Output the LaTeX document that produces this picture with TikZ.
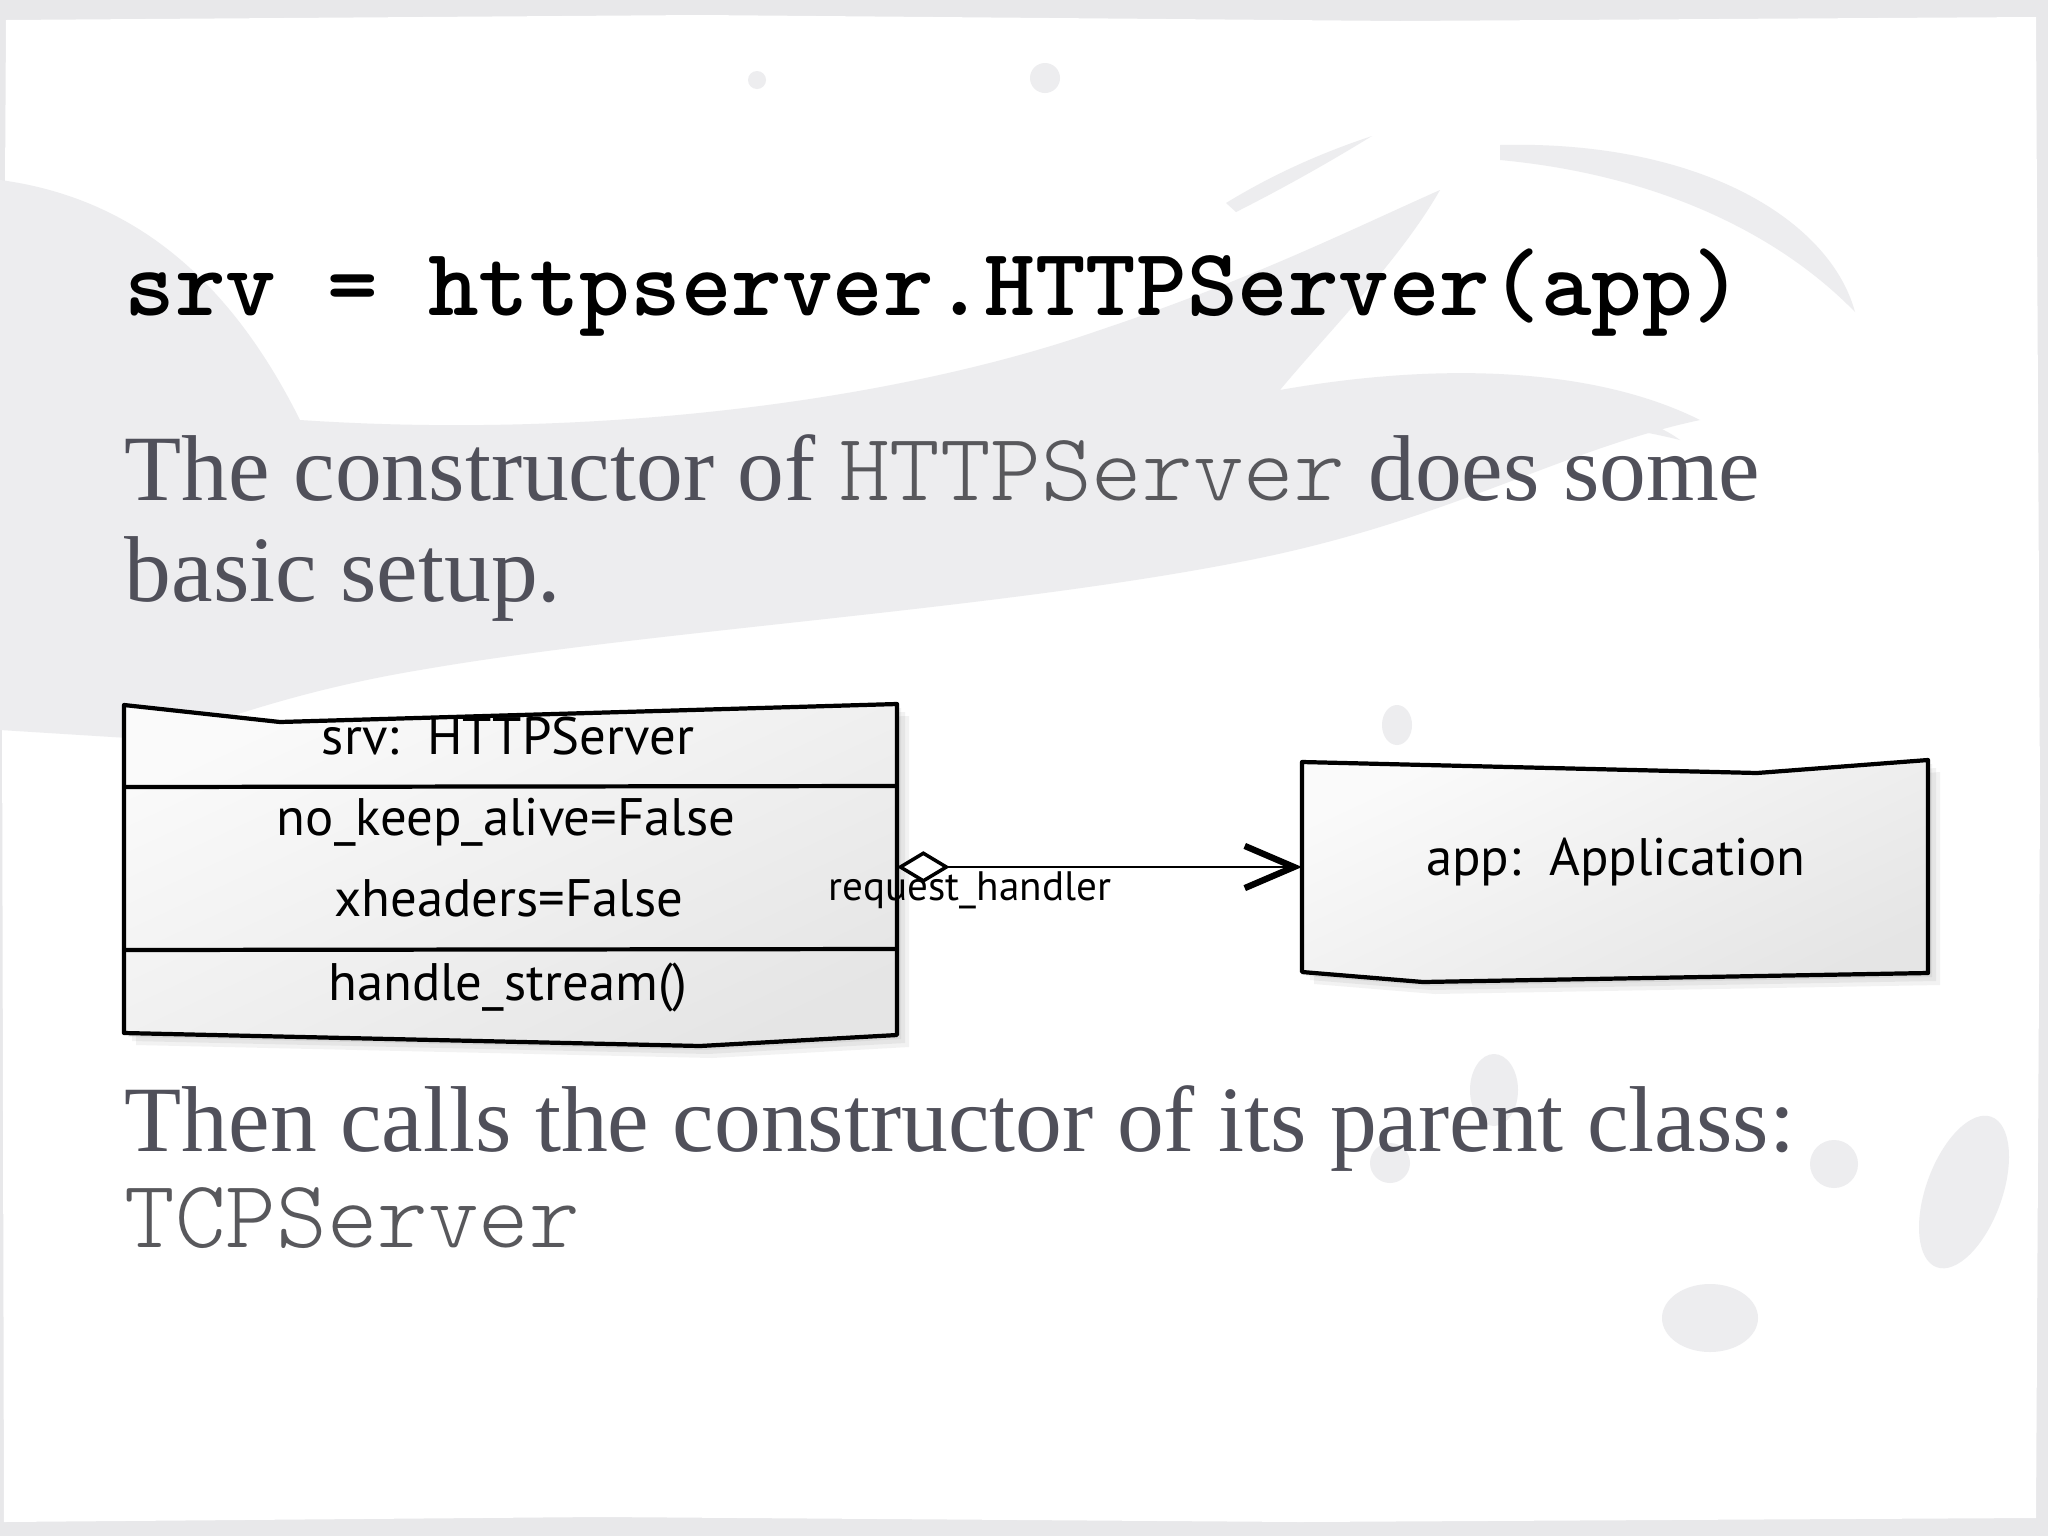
\documentclass[tikz,border=0pt]{standalone}
\usepackage{fontspec}
\setmainfont{Liberation Serif}
\newfontfamily\handfont{PT Sans}
\usetikzlibrary{arrows.meta, calc, positioning}

\definecolor{pagegray}{HTML}{E8E8EA}
\definecolor{splash}{HTML}{EDEDEF}
\definecolor{bodytext}{HTML}{50505A}
\definecolor{codetext}{HTML}{58585C}

\newcommand{\code}[1]{{\fontsize{27.4}{30}\selectfont\ttfamily\fontseries{l}\selectfont\color{codetext}#1}}

\tikzset{
  title text/.style={anchor=base west, inner sep=0pt,
    font=\fontsize{27.4}{30}\selectfont\ttfamily\bfseries},
  body text/.style={anchor=base west, inner sep=0pt, text=bodytext,
    font=\fontsize{26.6}{30}\selectfont},
  hand text/.style={anchor=base, inner sep=0pt,
    font=\fontsize{15}{18}\selectfont\handfont},
  small hand/.style={anchor=base, inner sep=0pt,
    font=\fontsize{11.7}{14}\selectfont\handfont},
  sketch line/.style={line width=1.2pt, line join=round},
  box shadow/.style={fill=black, opacity=0.05},
  box fill/.style={top color=black!2, bottom color=black!10, shading angle=25},
  aggregation/.style={line width=0.8pt,
    {Diamond[fill=white, length=15pt, width=9pt, line width=1pt]}-{Straight Barb[length=14pt, width=12pt, line width=1.8pt]}},
}

\begin{document}
\begin{tikzpicture}[x=0.01cm, y=-0.01cm]
  % page and background splashes
  \fill[pagegray] (0,0) rectangle (2048,1536);
  \fill[white] (6,20) -- (700,15) -- (1400,21) -- (2036,17) -- (2040,800)
    -- (2036,1518) -- (1300,1522) -- (600,1517) -- (4,1522) -- (2,700) -- cycle;
  \useasboundingbox (0,0) rectangle (2048,1536);

  \fill[splash] (0,180) .. controls (150,200) and (240,300) .. (300,420)
    .. controls (600,440) and (900,400) .. (1100,330)
    .. controls (1250,280) and (1350,230) .. (1440,190)
    .. controls (1400,260) and (1330,330) .. (1280,390)
    .. controls (1450,360) and (1600,370) .. (1700,420)
    .. controls (1560,450) and (1450,520) .. (1250,560)
    .. controls (1000,610) and (650,630) .. (420,670)
    .. controls (300,690) and (220,720) .. (160,740)
    -- (0,730) -- cycle;
  \fill[splash] (1500,145) .. controls (1700,140) and (1830,220) .. (1855,312)
    .. controls (1780,235) and (1660,175) .. (1500,160) -- cycle;
  \fill[splash] (1226,203) .. controls (1280,170) and (1330,150) .. (1372,136)
    .. controls (1320,168) and (1270,195) .. (1236,212) -- cycle;
  \fill[splash] (1494,412) .. controls (1560,400) and (1640,410) .. (1680,440)
    .. controls (1620,425) and (1560,420) .. (1500,425) -- cycle;
  \fill[splash, rotate around={-20:(1964,1192)}] (1964,1192) ellipse (38 and 80);
  \fill[splash] (1834,1164) circle (24);
  \fill[splash] (1710,1318) ellipse (48 and 34);
  \fill[splash] (1390,1163) circle (20);
  \fill[splash] (1494,1090) ellipse (24 and 36);
  \fill[splash] (1045,78) circle (15);
  \fill[splash] (757,80) circle (9);
  \fill[splash] (1397,725) ellipse (15 and 20);

  % texts
  \node[title text] (title) at (124,315) {srv = httpserver.HTTPServer(app)};
  \node[body text] (introA) at (124,500) {The constructor of \code{HTTPServer} does some};
  \node[body text] (introB) at (124,601) {basic setup.};
  \node[body text] (thenA) at (124,1151) {Then calls the constructor of its parent class:};
  \node[body text] (thenB) at (124,1247) {\code{TCPServer}};

  % server object box
  \coordinate (srvTL) at (124,705);
  \coordinate (srvTM) at (280,722);
  \coordinate (srvTR) at (897,704);
  \coordinate (srvBR) at (897,1035);
  \coordinate (srvBM) at (700,1046);
  \coordinate (srvBL) at (124,1033);
  \coordinate (srvPort) at (897,867);

  % application object box
  \coordinate (appTL) at (1302,762);
  \coordinate (appTM) at (1757,773);
  \coordinate (appTR) at (1928,760);
  \coordinate (appBR) at (1928,973);
  \coordinate (appBM) at (1423,982);
  \coordinate (appBL) at (1302,972);
  \coordinate (appPort) at (1302,867);

  \foreach \s in {4,8,12}{
    \fill[box shadow] ($(srvTL)+(\s,\s)$) -- ($(srvTM)+(\s,\s)$) -- ($(srvTR)+(\s,\s)$)
      -- ($(srvBR)+(\s,\s)$) -- ($(srvBM)+(\s,\s)$) -- ($(srvBL)+(\s,\s)$) -- cycle;
    \fill[box shadow] ($(appTL)+(\s,\s)$) -- ($(appTM)+(\s,\s)$) -- ($(appTR)+(\s,\s)$)
      -- ($(appBR)+(\s,\s)$) -- ($(appBM)+(\s,\s)$) -- ($(appBL)+(\s,\s)$) -- cycle;
  }

  \shade[box fill] (srvTL) -- (srvTM) -- (srvTR) -- (srvBR) -- (srvBM) -- (srvBL) -- cycle;
  \draw[sketch line] (srvTL) -- (srvTM) -- (srvTR) -- (srvBR) -- (srvBM) -- (srvBL) -- cycle;
  \draw[sketch line] (124,787) -- (897,786);
  \draw[sketch line] (124,950) -- (897,949);

  \shade[box fill] (appTL) -- (appTM) -- (appTR) -- (appBR) -- (appBM) -- (appBL) -- cycle;
  \draw[sketch line] (appTL) -- (appTM) -- (appTR) -- (appBR) -- (appBM) -- (appBL) -- cycle;

  \node[hand text] (srvName) at (508,754) {srv:\ \ HTTPServer};
  \node[hand text] (srvKeep) at (506,835) {no\_keep\_alive=False};
  \node[hand text] (srvXhdr) at (509,916) {xheaders=False};
  \node[hand text] (srvOp) at (508,1000) {handle\_stream()};
  \node[hand text] (appName) at (1616,875) {app:\ \ Application};

  % association
  \draw[aggregation] (srvPort) -- (appPort);
  \node[small hand] (roleLabel) at ($(srvPort)+(73,33)$) {request\_handler};
\end{tikzpicture}
\end{document}
